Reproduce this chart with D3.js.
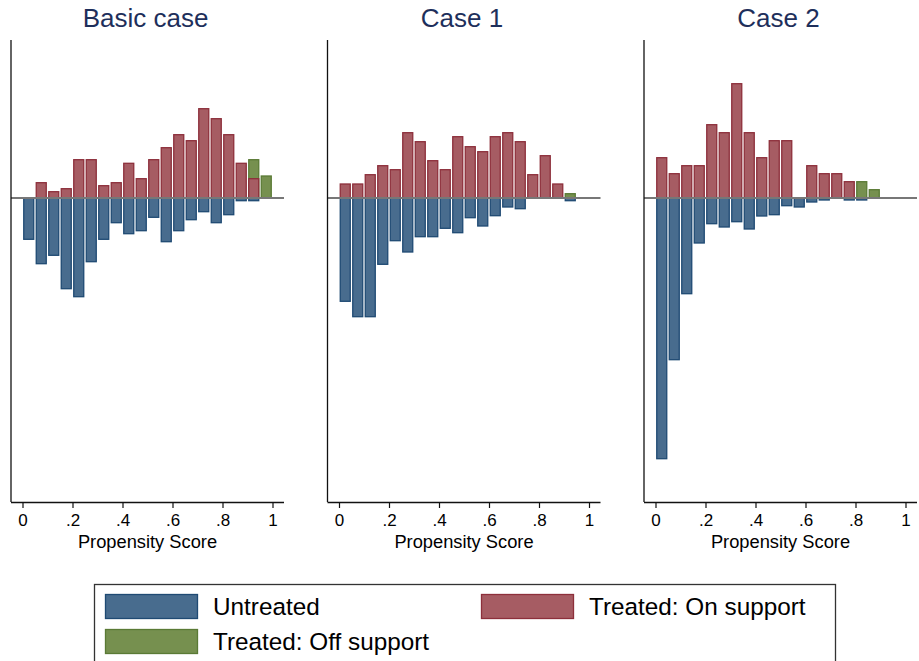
<!DOCTYPE html>
<html>
<head>
<meta charset="utf-8">
<script src="https://cdn.jsdelivr.net/npm/d3@7"></script>
<style>
  body { margin: 0; background: #fff; }
  text { font-family: "Liberation Sans", Arial, sans-serif; }
</style>
</head>
<body>
<script>
// bin midpoints of the propensity score histogram (bin width .05)
var binMids = [0.025, 0.075, 0.125, 0.175, 0.225, 0.275, 0.325, 0.375, 0.425, 0.475,
               0.525, 0.575, 0.625, 0.675, 0.725, 0.775, 0.825, 0.875, 0.925, 0.975];
var xTicks = [0, 0.2, 0.4, 0.6, 0.8, 1];
var xTickLabels = ["0", ".2", ".4", ".6", ".8", "1"];
var panelTitles = ["Basic case", "Case 1", "Case 2"];

// heights (frequency, common scale for all panels)
var basicTreated   = [0, 15.3, 6.3, 9.3, 38.3, 38.3, 12.3, 15.3, 34.7, 19.3, 38.3, 50.3, 63.3, 57.3, 89.3, 79.3, 63.3, 34.7, 19.3, 0];
var basicOff       = [0, 0, 0, 0, 0, 0, 0, 0, 0, 0, 0, 0, 0, 0, 0, 0, 0, 0, 38.3, 22];
var basicUntreated = [41.3, 65.7, 57.3, 90.7, 98.7, 63.7, 41.3, 24.7, 35.7, 32.7, 19.3, 43.7, 32.7, 21.7, 13.7, 24.7, 16.7, 2.7, 2.7, 0];

var case1Treated   = [14, 14, 23.3, 32.3, 28.3, 65.3, 56.3, 37.3, 28.3, 61.3, 51.3, 46.3, 61.3, 65.3, 56.3, 23.3, 42.3, 14, 0, 0];
var case1Off       = [0, 0, 0, 0, 0, 0, 0, 0, 0, 0, 0, 0, 0, 0, 0, 0, 0, 0, 4.3, 0];
var case1Untreated = [103.3, 118.7, 118.7, 66.3, 42.7, 54, 38.7, 38.7, 30.3, 34.7, 19.7, 28, 17.7, 9, 10.7, 0, 0, 0, 2.7, 0];

var case2Treated   = [40.3, 24.3, 32.3, 32.3, 73.3, 65.3, 114.3, 65.3, 40.3, 57.3, 57.3, 0, 32.3, 24.3, 24.3, 16.3, 0, 0, 0, 0];
var case2Off       = [0, 0, 0, 0, 0, 0, 0, 0, 0, 0, 0, 0, 0, 0, 0, 0, 16.3, 8.3, 0, 0];
var case2Untreated = [260.7, 161.7, 95.7, 45, 25.7, 29, 23.7, 31, 18, 16.7, 7.7, 9, 4, 2, 0, 2, 2, 0, 0, 0];

var legendLabels = ["Untreated", "Treated: On support", "Treated: Off support"];

var panels = [
	{ title: panelTitles[0], treated: basicTreated, off: basicOff, untreated: basicUntreated },
	{ title: panelTitles[1], treated: case1Treated, off: case1Off, untreated: case1Untreated },
	{ title: panelTitles[2], treated: case2Treated, off: case2Off, untreated: case2Untreated }
];

var colors = {
	untreated: { fill: "#486c8e", stroke: "#1f4a73" },
	on:        { fill: "#a65c63", stroke: "#8d2f3b" },
	off:       { fill: "#76904f", stroke: "#5a7a35" }
};

var W = 919, H = 661;
var svg = d3.select("body").append("svg").attr("width", W).attr("height", H);

var plotTop = 40, plotBottom = 502, plotWidth = 273;
var panelLeft = [11, 327.5, 644];
var barWidth = 0.04;

var y = d3.scaleLinear().domain([-304, 158]).range([plotBottom, plotTop]);

panels.forEach(function (p, k)
{
	var left = panelLeft[k];
	var x = d3.scaleLinear().domain([-0.046, 1.046]).range([left, left + plotWidth]);
	var g = svg.append("g");

	function drawBars(values, col, sign)
	{
		var rows = binMids.map(function (m, i) { return { m: m, v: values[i] }; })
			.filter(function (d) { return d.v > 0; });
		g.append("g").selectAll("rect")
			.data(rows)
			.enter()
			.append("rect")
			.attr("x", function (d) { return x(d.m - barWidth / 2); })
			.attr("width", function (d) { return x(d.m + barWidth / 2) - x(d.m - barWidth / 2); })
			.attr("y", function (d) { return sign > 0 ? y(d.v) : y(0); })
			.attr("height", function (d) { return Math.abs(y(0) - y(sign * d.v)); })
			.attr("fill", col.fill)
			.attr("stroke", col.stroke)
			.attr("stroke-width", 1.3);
	}

	drawBars(p.untreated, colors.untreated, -1);
	drawBars(p.off, colors.off, 1);
	drawBars(p.treated, colors.on, 1);

	// zero line
	g.append("line")
		.attr("x1", left).attr("x2", left + plotWidth)
		.attr("y1", y(0)).attr("y2", y(0))
		.attr("stroke", "#777").attr("stroke-width", 1.8);

	// y axis line (no labels)
	g.append("line")
		.attr("x1", left).attr("x2", left)
		.attr("y1", plotTop).attr("y2", plotBottom)
		.attr("stroke", "#111").attr("stroke-width", 1.3);

	// x axis
	var xAxis = d3.axisBottom(x)
		.tickValues(xTicks)
		.tickSize(6)
		.tickPadding(6)
		.tickFormat(function (d, i) { return xTickLabels[i]; });
	var ax = g.append("g").attr("transform", "translate(0," + plotBottom + ")").call(xAxis);
	ax.select(".domain").attr("d", "M" + left + ",0.5H" + (left + plotWidth)).attr("stroke", "#111").attr("stroke-width", 1.3);
	ax.selectAll(".tick line").attr("stroke", "#111").attr("stroke-width", 1.2);
	ax.selectAll(".tick text").attr("fill", "#000").style("font-size", "17px")
		.style("font-family", "'Liberation Sans', Arial, sans-serif");

	g.append("text")
		.attr("x", x(0.5)).attr("y", 548)
		.attr("text-anchor", "middle")
		.style("font-size", "18.3px")
		.attr("fill", "#000")
		.text("Propensity Score");

	g.append("text")
		.attr("x", left + plotWidth / 2 - 2).attr("y", 27)
		.attr("text-anchor", "middle")
		.style("font-size", "26px")
		.attr("fill", "#1e2f5b")
		.text(p.title);
});

// legend
var legend = svg.append("g");
legend.append("rect")
	.attr("x", 94.5).attr("y", 584.5).attr("width", 741).attr("height", 100)
	.attr("fill", "#fff").attr("stroke", "#333").attr("stroke-width", 1.3);

var legendItems = [
	{ label: legendLabels[0], col: colors.untreated, x: 105, y: 594 },
	{ label: legendLabels[1], col: colors.on, x: 481, y: 594 },
	{ label: legendLabels[2], col: colors.off, x: 105, y: 629 }
];

legendItems.forEach(function (it)
{
	legend.append("rect")
		.attr("x", it.x + 0.5).attr("y", it.y + 0.5).attr("width", 92).attr("height", 24)
		.attr("fill", it.col.fill).attr("stroke", it.col.stroke).attr("stroke-width", 1.3);
	legend.append("text")
		.attr("x", it.x + 108).attr("y", it.y + 21)
		.style("font-size", "24.3px")
		.attr("fill", "#000")
		.text(it.label);
});
</script>
</body>
</html>
